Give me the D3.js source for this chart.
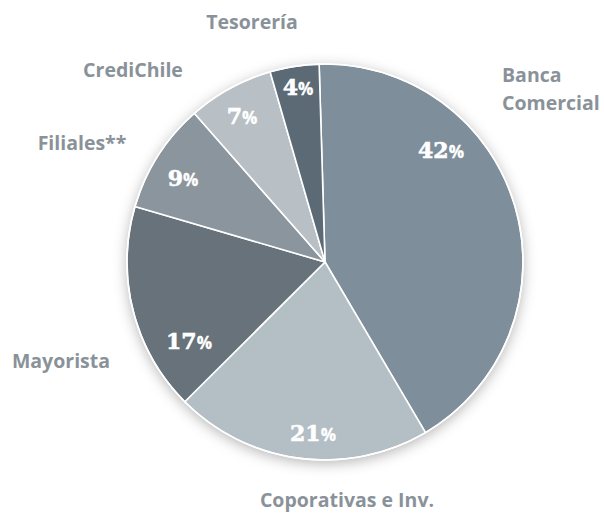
<!DOCTYPE html>
<html>
<head>
<meta charset="utf-8">
<script src="https://cdn.jsdelivr.net/npm/d3@7"></script>
<style>
  body { margin: 0; background: #fff; }
  .name { font-family: "Open Sans", sans-serif; font-weight: 700; font-size: 19.5px; fill: #8a9299; }
  .pct { font-family: "DejaVu Serif", serif; font-weight: 700; font-size: 22px; fill: #fff; stroke: #fff; stroke-width: 0.6px; }
  .pct tspan.sign { font-family: "Open Sans", sans-serif; font-size: 17px; stroke-width: 0.3px; }
</style>
</head>
<body>
<svg id="chart"></svg>
<script>
// segments, clockwise from 12 o'clock
var segments = ["Banca Comercial", "Coporativas e Inv.", "Mayorista", "Filiales**", "CrediChile", "Tesorería"];
var shares = [42, 21, 17, 9, 7, 4];
var colors = ["#7e8e9b", "#b4bec5", "#67727a", "#8b959d", "#b8bfc5", "#5b6a75"];

// label placement (layout only)
var nameLines = [["Banca", "Comercial"], ["Coporativas e Inv."], ["Mayorista"], ["Filiales**"], ["CrediChile"], ["Tesorería"]];
var namePos = [[502, 82, "start"], [347, 507, "middle"], [61, 368, "middle"], [82, 150, "middle"], [133, 77, "middle"], [252, 29, "middle"]];
var pctPos = [[441, 158], [313, 441], [189, 349], [183, 186], [242, 124], [298, 95]];

var width = 604, height = 514;
var cx = 325, cy = 262, radius = 198;

var svg = d3.select("#chart")
            .attr("width", width)
            .attr("height", height);

var defs = svg.append("defs");
var shadow = defs.append("filter")
                 .attr("id", "shadow")
                 .attr("x", "-20%").attr("y", "-20%")
                 .attr("width", "140%").attr("height", "140%");
shadow.append("feDropShadow")
      .attr("dx", 0)
      .attr("dy", 3)
      .attr("stdDeviation", 7)
      .attr("flood-color", "#000")
      .attr("flood-opacity", 0.3);

var pie = d3.pie()
            .sort(null)
            .startAngle(-1.7 * Math.PI / 180)
            .endAngle(2 * Math.PI - 1.7 * Math.PI / 180);

var arc = d3.arc()
            .innerRadius(0)
            .outerRadius(radius);

var g = svg.append("g")
           .attr("transform", `translate(${cx},${cy})`);

// shadow disc behind the pie
g.append("circle")
 .attr("r", radius)
 .attr("fill", "#fff")
 .attr("filter", "url(#shadow)");

g.selectAll(".slice")
 .data(pie(shares))
 .enter().append("path")
 .attr("class", "slice")
 .attr("d", arc)
 .attr("fill", (d, i) => colors[i])
 .attr("stroke", "#fff")
 .attr("stroke-width", 1.6)
 .attr("stroke-linejoin", "round");

// outer white rim
g.append("circle")
 .attr("r", radius)
 .attr("fill", "none")
 .attr("stroke", "#fff")
 .attr("stroke-width", 1.6);

// percentage labels
var pct = svg.selectAll(".pct")
             .data(shares)
             .enter().append("text")
             .attr("class", "pct")
             .attr("x", (d, i) => pctPos[i][0])
             .attr("y", (d, i) => pctPos[i][1])
             .attr("text-anchor", "middle");
pct.append("tspan").text(d => d);
pct.append("tspan").attr("class", "sign").text("%");

// segment names
svg.selectAll(".name")
   .data(segments)
   .enter().append("text")
   .attr("class", "name")
   .attr("x", (d, i) => namePos[i][0])
   .attr("y", (d, i) => namePos[i][1])
   .attr("text-anchor", (d, i) => namePos[i][2])
   .each(function(d, i) {
     var t = d3.select(this);
     nameLines[i].forEach(function(line, j) {
       t.append("tspan")
        .attr("x", namePos[i][0])
        .attr("dy", j === 0 ? 0 : 28)
        .text(line);
     });
   });
</script>
</body>
</html>
